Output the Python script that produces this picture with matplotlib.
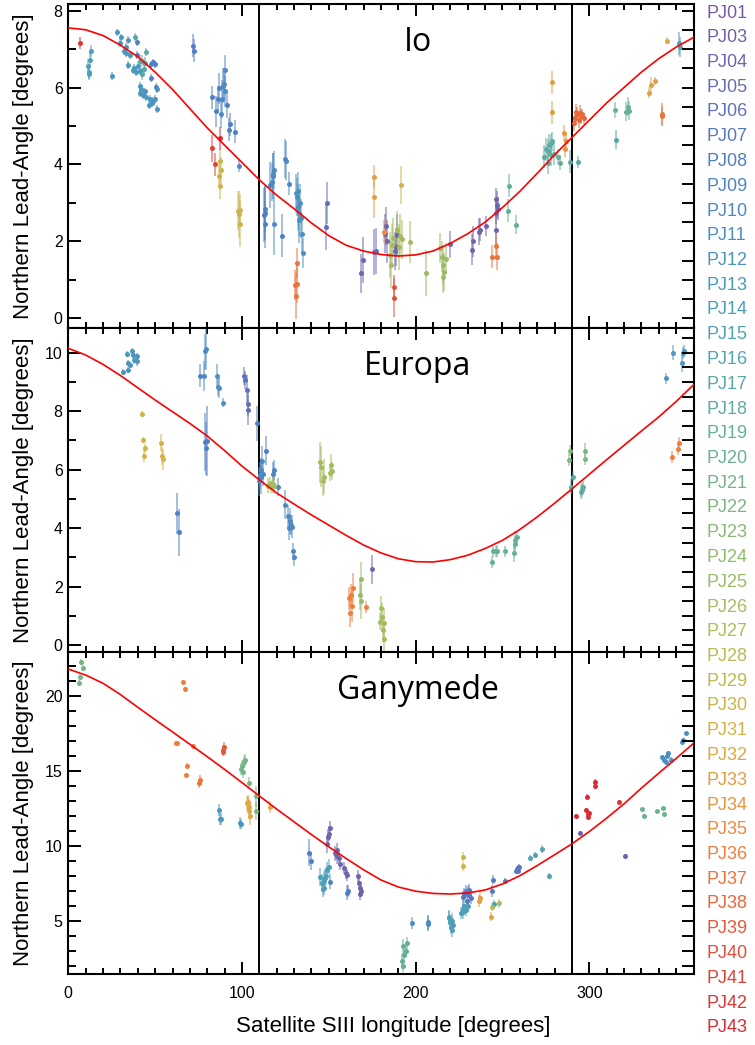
import matplotlib
matplotlib.use('Agg')
import matplotlib.pyplot as plt
from matplotlib.colors import LinearSegmentedColormap, to_rgba
from matplotlib.ticker import MultipleLocator

plt.rcParams['font.family'] = ['Liberation Sans', 'DejaVu Sans']

# ---------------- data ----------------
pj_numbers = [1] + list(range(3, 44))
pj_labels = ['PJ%02d' % n for n in pj_numbers]

curve_lon = list(range(0, 361, 10))
io_curve = [7.55, 7.5, 7.35, 7.1, 6.8, 6.4, 5.95, 5.45, 4.95, 4.5, 4.05, 3.6, 3.2, 2.85, 2.48,
            2.15, 1.9, 1.75, 1.66, 1.62, 1.65, 1.75, 1.95, 2.2, 2.5, 2.88, 3.3, 3.77, 4.25, 4.7,
            5.15, 5.6, 6.0, 6.4, 6.75, 7.05, 7.3]
europa_curve = [10.15, 9.92, 9.6, 9.22, 8.8, 8.38, 7.98, 7.58, 7.15, 6.65, 6.12, 5.65, 5.2, 4.82,
                4.45, 4.1, 3.75, 3.42, 3.15, 2.95, 2.85, 2.84, 2.92, 3.07, 3.3, 3.58, 3.95, 4.38,
                4.85, 5.34, 5.84, 6.34, 6.83, 7.32, 7.8, 8.33, 8.9]
ganymede_curve = [21.8, 21.4, 20.85, 20.1, 19.25, 18.42, 17.6, 16.78, 15.95, 15.1, 14.22, 13.33,
                  12.45, 11.6, 10.75, 9.93, 9.15, 8.4, 7.72, 7.25, 6.97, 6.82, 6.78, 6.85, 7.05,
                  7.45, 8.0, 8.68, 9.4, 10.13, 10.95, 11.85, 12.8, 13.85, 14.85, 15.83, 16.84]

io_lon = [6.7, 11.5, 12, 12.5, 13, 11.8, 25.2, 28.3, 30.6, 29.6, 32, 33, 33.5, 34.4, 35.4, 34.4,
          37, 38, 39, 40, 41, 38.2, 39.6, 39.5, 41, 42.5, 44, 45, 43.6, 42.3, 47.7, 48.8, 50, 47.5,
          50.6, 41, 42, 41.5, 43, 44, 45, 47, 48, 49, 50, 51, 46.5, 51.2, 71.6, 72.2,
          83, 85, 86, 87, 88, 88.5, 89.5, 90, 89, 90.5, 91.5, 92.5, 93, 96, 98.4,
          82.6, 84.5, 87.3, 87.4, 87.8, 87, 87.2, 98, 98.4, 98.8, 99,
          113, 113.2, 113.5, 112.5, 116, 117.5, 118, 118.5, 117.8, 118.5, 124.8, 125.2, 127.2, 123,
          131, 131.5, 132, 132.5, 133, 133.5, 134, 134.5, 135.2, 132.8,
          130.5, 131, 131.5, 131.8, 149, 148.5, 168.5, 169.5, 176, 177, 175.8, 176.2, 191.5,
          182.5, 183, 183.5, 188.5, 189, 188, 185.5, 186.5, 187, 189.5, 190.5, 191, 192, 186,
          187.5, 187.3, 182, 197, 206, 214, 215, 216, 216.5, 217.5, 215.5, 219.6,
          232.5, 233, 236.5, 237, 240.7, 246.5, 247, 246, 247.5, 246, 244, 246.5, 247,
          253.5, 253.2, 258, 274, 275, 276, 277, 278, 278.7, 278, 276.5, 279.5, 278.6, 278.3,
          281.7, 283, 285.5, 286, 286.3, 289, 293.5,
          291, 292, 293, 294, 295, 296, 297, 292.5, 294.5, 314.7, 315.5, 321, 322, 323,
          334.6, 335.5, 338, 341.6, 342, 345, 351.6, 352]
io_lead = [7.15, 6.55, 6.41, 6.71, 6.95, 6.35, 6.3, 7.43, 7.3, 7.15, 6.95, 7.05, 6.9, 7.24, 6.85, 6.59,
           6.45, 6.5, 6.4, 6.55, 6.42, 7.32, 7.19, 6.85, 6.7, 6.7, 6.63, 6.92, 6.47, 6.35, 6.6, 6.65, 6.6, 6.25,
           6.02, 6.05, 5.95, 5.85, 5.8, 5.9, 5.75, 5.7, 5.6, 5.65, 5.7, 5.45, 5.55, 5.95, 7.08, 6.95,
           5.75, 5.38, 5.7, 5.98, 5.3, 5.7, 6.1, 6.45, 6.05, 5.9, 5.55, 4.9, 5.05, 4.85, 3.96,
           4.42, 4.0, 4.68, 4.1, 3.85, 3.7, 3.45, 2.8, 2.7, 2.45, 2.82,
           2.73, 2.83, 2.44, 2.68, 3.47, 3.55, 3.75, 3.85, 3.7, 2.45, 4.15, 4.1, 3.5, 2.15,
           3.25, 3.15, 2.9, 3.3, 2.73, 3.0, 2.6, 2.2, 1.7, 2.55,
           0.87, 0.58, 1.44, 0.9, 3.0, 2.37, 1.17, 1.51, 1.72, 1.75, 3.68, 3.15, 3.47,
           2.2, 2.4, 2.0, 1.85, 2.17, 1.75, 1.65, 1.9, 2.1, 2.3, 1.85, 2.15, 2.05, 1.4,
           0.82, 0.54, 2.25, 1.98, 1.19, 1.83, 1.6, 1.4, 1.2, 1.55, 1.07, 1.92,
           1.78, 2.0, 2.25, 2.3, 2.4, 2.75, 2.95, 3.1, 2.85, 2.3, 1.6, 1.87, 1.6,
           3.45, 2.8, 2.43, 4.2, 4.4, 4.35, 4.5, 4.55, 4.6, 4.25, 4.05, 4.28, 6.13, 5.36,
           4.2, 4.05, 4.82, 4.4, 4.6, 4.07, 4.06,
           5.07, 5.2, 5.3, 5.15, 5.25, 5.3, 5.2, 5.37, 5.35, 5.42, 4.64, 5.37, 5.5, 5.4,
           5.87, 6.07, 6.17, 5.3, 5.27, 7.22, 7.15, 7.05]
io_err = [0.15, 0.2, 0.2, 0.2, 0.15, 0.15, 0.1, 0.1, 0.1, 0.1, 0.1, 0.1, 0.1, 0.1, 0.1, 0.1,
          0.1, 0.1, 0.1, 0.1, 0.1, 0.1, 0.1, 0.1, 0.15, 0.15, 0.15, 0.1, 0.15, 0.15, 0.1, 0.1, 0.1, 0.1,
          0.1, 0.1, 0.1, 0.1, 0.1, 0.1, 0.1, 0.1, 0.1, 0.1, 0.1, 0.1, 0.1, 0.1, 0.3, 0.3,
          0.3, 0.4, 0.35, 0.4, 0.35, 0.5, 0.4, 0.4, 0.45, 0.4, 0.35, 0.3, 0.3, 0.3, 0.15,
          0.35, 0.3, 0.3, 0.3, 0.35, 0.3, 0.35, 0.5, 0.6, 0.6, 0.4,
          0.7, 0.6, 0.6, 0.7, 0.6, 0.5, 0.55, 0.5, 0.6, 0.8, 0.5, 0.5, 0.3, 0.55,
          0.5, 0.5, 0.6, 0.5, 0.6, 0.5, 0.5, 0.5, 0.4, 0.6,
          0.4, 0.6, 0.4, 0.5, 0.55, 0.6, 0.5, 0.6, 0.6, 0.6, 0.3, 0.55, 0.5,
          0.5, 0.5, 0.55, 0.5, 0.55, 0.5, 0.6, 0.55, 0.5, 0.5, 0.6, 0.55, 0.5, 0.6,
          0.3, 0.5, 0.3, 0.55, 0.6, 0.4, 0.4, 0.5, 0.5, 0.4, 0.4, 0.35,
          0.4, 0.4, 0.35, 0.3, 0.25, 0.3, 0.35, 0.3, 0.3, 0.4, 0.3, 0.35, 0.35,
          0.3, 0.3, 0.25, 0.3, 0.3, 0.3, 0.3, 0.25, 0.25, 0.3, 0.3, 0.3, 0.3, 0.3,
          0.2, 0.2, 0.2, 0.2, 0.2, 0.3, 0.15,
          0.2, 0.2, 0.2, 0.2, 0.2, 0.15, 0.15, 0.2, 0.2, 0.2, 0.25, 0.25, 0.25, 0.25,
          0.15, 0.2, 0.1, 0.3, 0.25, 0.1, 0.3, 0.25]
io_pj = [42, 14, 14, 14, 14, 14, 12, 12, 12, 12, 12, 12, 12, 12, 12, 12,
         13, 13, 13, 13, 13, 16, 8, 6, 17, 17, 17, 17, 17, 17, 8, 8, 8, 8,
         8, 12, 12, 12, 12, 12, 13, 12, 12, 12, 12, 12, 12, 12, 8, 8,
         8, 8, 8, 8, 10, 10, 10, 10, 10, 10, 8, 8, 8, 8, 10,
         41, 41, 43, 30, 30, 30, 30, 30, 30, 30, 30,
         8, 8, 8, 8, 9, 10, 10, 10, 10, 10, 10, 10, 10, 8,
         11, 11, 11, 11, 11, 11, 11, 11, 11, 10,
         37, 37, 37, 37, 6, 6, 4, 4, 5, 5, 33, 33, 30,
         4, 4, 4, 4, 4, 5, 26, 26, 26, 26, 26, 26, 26, 26,
         40, 40, 35, 26, 25, 25, 25, 25, 25, 25, 25, 4,
         4, 4, 4, 4, 4, 4, 4, 4, 4, 4, 37, 37, 37,
         19, 19, 19, 18, 18, 18, 18, 18, 18, 18, 18, 18, 33, 33,
         19, 19, 34, 34, 34, 17, 17,
         38, 38, 38, 38, 38, 38, 38, 38, 38, 20, 16, 19, 19, 19,
         33, 33, 33, 37, 37, 32, 15, 15]

europa_lon = [31.7, 34.5, 34.6, 34, 36.5, 37, 38, 39.4, 39.8, 35.5,
              42.3, 42.9, 43.6, 44.2, 53.3, 53.8, 54.4, 62.5, 63.6,
              75.9, 78, 79.4, 79, 78.8, 79.2, 79.6, 85.9, 86.3, 86.8, 88.8,
              100.9, 102, 102.7, 103.7, 103.4, 108.6,
              110, 110.5, 111, 111.5, 111.2, 112, 114, 115, 116, 117, 118, 118.6, 117.8, 118.2, 121,
              125, 126.3, 127, 128, 128.6, 129.3, 130.2, 127.5,
              145, 145.6, 146.6, 147.3, 150.7, 151.3, 151.8,
              161.8, 162.3, 163.3, 164, 162.8, 171.6, 168, 168.3, 168.6, 174.9,
              179.7, 180.3, 181, 181.5, 182, 180.8,
              244, 244.6, 246, 247, 251.7, 256.5, 257, 257.5, 258.4,
              288.3, 288.6, 297.3, 297.8, 289.7, 290.5, 295.3, 295.8, 296.5,
              344, 348, 353.5, 353.9, 354.4, 347.4, 351, 351.7]
europa_lead = [9.35, 9.4, 9.64, 9.96, 10.07, 9.92, 9.75, 9.89, 9.7, 9.57,
               7.9, 7.01, 6.47, 6.73, 6.92, 6.47, 6.35, 4.5, 3.85,
               9.21, 9.2, 10.12, 10.05, 6.94, 6.73, 6.98, 9.2, 8.82, 8.8, 8.29,
               9.21, 9.07, 8.72, 8.04, 8.24, 7.58,
               5.6, 5.8, 6.0, 6.3, 5.75, 5.85, 6.65, 5.45, 5.55, 5.4, 5.5, 5.45, 5.85, 5.99, 5.4,
               4.8, 4.4, 4.0, 4.1, 4.05, 3.2, 3.0, 4.25,
               6.25, 6.1, 5.6, 5.75, 5.9, 6.15, 5.95,
               1.6, 1.1, 1.33, 1.95, 1.7, 1.3, 1.7, 2.25, 1.5, 2.59,
               0.8, 1.26, 0.5, 0.75, 0.2, 0.95,
               2.85, 3.2, 3.2, 3.22, 3.2, 3.15, 3.45, 3.6, 3.7,
               6.33, 6.65, 6.35, 6.65, 5.42, 5.76, 5.24, 5.3, 5.42,
               9.12, 10.0, 9.64, 10.0, 10.05, 6.44, 6.7, 6.9]
europa_err = [0.1, 0.1, 0.1, 0.1, 0.1, 0.1, 0.15, 0.1, 0.15, 0.1,
              0.1, 0.1, 0.2, 0.15, 0.3, 0.3, 0.35, 0.7, 0.8,
              0.4, 0.5, 0.7, 0.6, 1.0, 0.9, 1.2, 0.4, 0.3, 0.35, 0.15,
              0.3, 0.3, 0.5, 0.5, 0.4, 0.6,
              0.5, 0.45, 0.4, 0.5, 0.6, 0.4, 0.5, 0.25, 0.2, 0.2, 0.3, 0.3, 0.4, 0.35, 0.3,
              0.5, 0.4, 0.4, 0.35, 0.4, 0.3, 0.3, 0.45,
              0.7, 0.7, 0.5, 0.6, 0.3, 0.4, 0.3,
              0.4, 0.5, 0.55, 0.5, 0.4, 0.2, 0.5, 0.6, 0.6, 0.5,
              0.3, 0.4, 0.4, 0.5, 0.4, 0.5,
              0.2, 0.2, 0.2, 0.2, 0.2, 0.3, 0.25, 0.3, 0.2,
              0.2, 0.2, 0.2, 0.25, 0.25, 0.2, 0.25, 0.25, 0.2,
              0.2, 0.25, 0.3, 0.2, 0.2, 0.2, 0.2, 0.2]
europa_pj = [12, 12, 12, 12, 12, 12, 12, 12, 12, 12,
             31, 31, 31, 31, 31, 31, 31, 8, 8,
             10, 10, 10, 10, 8, 8, 8, 11, 11, 11, 11,
             6, 6, 6, 6, 6, 8,
             10, 10, 10, 10, 10, 10, 8, 26, 26, 26, 26, 26, 9, 9, 10,
             10, 10, 10, 10, 10, 10, 10, 10,
             26, 26, 26, 26, 26, 26, 26,
             36, 36, 36, 36, 36, 36, 25, 25, 25, 4,
             26, 26, 26, 26, 26, 26,
             19, 19, 19, 19, 19, 19, 19, 19, 19,
             22, 22, 22, 22, 18, 18, 18, 18, 18,
             13, 13, 13, 13, 13, 36, 36, 36]

ganymede_lon = [6.2, 6.8, 8.3, 7.5, 66, 67.3, 62, 62.8, 71.7, 68.4, 68, 75.5, 75.9,
                88.8, 89.5, 89.2, 87, 87.2, 87.8, 99, 99.4,
                99.5, 100.2, 101, 101.6, 100.6, 104.3,
                102.8, 103.5, 104.2, 104.7, 104.3, 103.3, 107.8, 108.2, 115.9,
                138.8, 139.7, 145, 146, 147, 147.5, 148.5, 149, 150, 146.5, 148, 150.5,
                149, 149.5, 150.5, 150, 153.7, 155, 156, 156.6, 154.5, 159, 159.8, 160.4,
                160.4, 160.8, 167, 167.8, 168.2, 168.5, 167.5,
                192, 192.5, 193.5, 194.3, 195, 193, 198, 207, 207.3,
                219, 219.8, 220.3, 220.8, 221, 219.5, 221.3,
                226, 227, 228, 229, 230, 227.5,
                227, 228, 229, 230, 231, 232, 229.5, 230.5,
                227, 227.3, 236.6, 237.3, 244.6, 244.2, 243.4, 243.8, 245, 248, 251.7,
                258, 258.5, 259, 259.6, 258.8, 266, 268.5, 273, 277,
                292.6, 294.9, 298.4, 298, 299, 299.5, 300, 303.3, 303.5, 317, 320.8,
                330.5, 331.4, 339, 342.5, 343,
                342, 343, 344.5, 345.3, 344, 347, 353.6, 354, 355.5]
ganymede_lead = [20.9, 21.25, 21.85, 22.29, 20.95, 20.47, 16.84, 16.86, 16.66, 15.35, 14.73, 14.17, 14.4,
                 16.28, 16.62, 16.4, 12.4, 11.8, 11.8, 11.5, 11.45,
                 15.1, 15.3, 15.6, 15.7, 14.95, 14.17,
                 12.85, 12.9, 12.6, 12.0, 12.3, 12.8, 12.34, 13.3, 12.61,
                 9.54, 9.0, 7.9, 7.5, 7.7, 7.2, 8.0, 8.4, 8.6, 7.1, 7.85, 7.6,
                 10.15, 10.6, 11.17, 10.8, 9.5, 9.7, 9.2, 8.8, 9.3, 8.5, 8.2, 8.05,
                 6.85, 6.95, 8.0, 7.2, 6.8, 7.0, 7.5,
                 2.3, 3.3, 2.7, 3.0, 3.5, 2.0, 4.83, 4.8, 4.9,
                 5.2, 4.9, 4.6, 5.0, 4.4, 5.26, 4.7,
                 5.5, 5.8, 6.0, 5.7, 6.0, 5.6,
                 6.6, 6.8, 7.0, 6.9, 6.7, 6.5, 6.3, 7.05,
                 9.27, 8.65, 6.3, 6.5, 7.72, 6.98, 5.26, 5.93, 6.1, 6.15, 7.65,
                 8.3, 8.45, 8.5, 8.6, 8.35, 9.2, 9.4, 9.8, 8.0,
                 11.99, 10.87, 13.28, 12.4, 12.1, 11.95, 12.2, 14.0, 14.28, 12.94, 9.32,
                 12.44, 11.99, 12.3, 12.5, 12.1,
                 15.9, 15.7, 16.0, 16.2, 15.6, 15.75, 16.95, 17.05, 17.5]
ganymede_err = [0.2, 0.2, 0.2, 0.2, 0.1, 0.1, 0.1, 0.1, 0.15, 0.15, 0.1, 0.3, 0.3,
                0.3, 0.3, 0.3, 0.4, 0.4, 0.4, 0.4, 0.35,
                0.4, 0.4, 0.4, 0.4, 0.4, 0.4,
                0.5, 0.5, 0.5, 0.6, 0.5, 0.5, 0.6, 0.7, 0.4,
                0.9, 0.6, 0.6, 0.6, 0.6, 0.5, 0.6, 0.5, 0.5, 0.5, 0.6, 0.5,
                0.6, 0.5, 0.5, 0.5, 0.5, 0.5, 0.4, 0.4, 0.5, 0.4, 0.4, 0.4,
                0.5, 0.4, 0.4, 0.4, 0.4, 0.4, 0.4,
                0.5, 0.5, 0.5, 0.4, 0.4, 0.4, 0.4, 0.5, 0.5,
                0.5, 0.5, 0.5, 0.5, 0.5, 0.4, 0.5,
                0.4, 0.4, 0.4, 0.4, 0.4, 0.5,
                0.4, 0.4, 0.4, 0.4, 0.4, 0.4, 0.4, 0.4,
                0.3, 0.3, 0.4, 0.4, 0.3, 0.4, 0.3, 0.3, 0.3, 0.3, 0.2,
                0.2, 0.2, 0.2, 0.2, 0.2, 0.2, 0.2, 0.25, 0.2,
                0.1, 0.1, 0.15, 0.15, 0.15, 0.15, 0.15, 0.15, 0.15, 0.1, 0.1,
                0.1, 0.1, 0.1, 0.1, 0.1,
                0.15, 0.15, 0.15, 0.15, 0.1, 0.15, 0.1, 0.1, 0.1]
ganymede_pj = [21, 21, 21, 21, 36, 36, 36, 36, 36, 36, 36, 37, 37,
               39, 39, 39, 12, 12, 12, 12, 12,
               21, 21, 21, 21, 21, 22,
               32, 32, 32, 32, 32, 32, 22, 22, 32,
               8, 8, 14, 14, 14, 14, 14, 14, 14, 14, 14, 9,
               4, 4, 4, 4, 4, 4, 4, 4, 4, 4, 4, 4,
               8, 8, 3, 3, 3, 3, 3,
               19, 19, 19, 19, 19, 19, 10, 10, 10,
               14, 14, 14, 14, 14, 14, 14,
               14, 14, 14, 14, 14, 14,
               7, 7, 7, 7, 7, 7, 7, 7,
               30, 30, 33, 33, 7, 7, 33, 27, 14, 27, 7,
               7, 7, 7, 7, 7, 15, 15, 15, 15,
               43, 3, 43, 43, 43, 43, 43, 43, 43, 42, 3,
               20, 20, 20, 20, 20,
               11, 11, 11, 11, 11, 11, 11, 11, 11]

moon_names = ['Io', 'Europa', 'Ganymede']
ylims = [(-0.25, 8.17), (-0.24, 10.845), (1.44, 22.94)]
y_major = [2, 2, 5]
y_minor_left = [1, 1, 1]
y_minor_right = [0.5, 0.5, 1]
vlines_lon = [110, 290]

# ---------------- style ----------------
pj_cmap = LinearSegmentedColormap.from_list('pj', [
    (0.00, '#7a5aa6'), (0.15, '#5080c4'), (0.27, '#4a9bbd'), (0.40, '#5fad9e'),
    (0.52, '#88ba72'), (0.63, '#b8bc52'), (0.72, '#dbae44'), (0.82, '#ef843e'),
    (1.00, '#d92b36')])
pj_color = {n: pj_cmap(i / (len(pj_numbers) - 1)) for i, n in enumerate(pj_numbers)}

W, H = 755, 1045
fig = plt.figure(figsize=(W / 100, H / 100), dpi=100)
left_px, right_px = 68.3, 693.5
panel_px = [(4, 328), (328, 652), (652, 974)]

datasets = [
    (io_lon, io_lead, io_err, io_pj, io_curve),
    (europa_lon, europa_lead, europa_err, europa_pj, europa_curve),
    (ganymede_lon, ganymede_lead, ganymede_err, ganymede_pj, ganymede_curve),
]

label_font = dict(family='Liberation Sans', size=16)

for k, (top, bot) in enumerate(panel_px):
    ax = fig.add_axes([left_px / W, 1 - bot / H, (right_px - left_px) / W, (bot - top) / H])
    lon, lead, err, pj, curve = datasets[k]
    for n in pj_numbers:
        idx = [i for i, p in enumerate(pj) if p == n]
        if not idx:
            continue
        c = pj_color[n]
        ax.errorbar([lon[i] for i in idx], [lead[i] for i in idx],
                    yerr=[err[i] for i in idx], fmt='o', ms=3.6, mfc=c, mec=c, mew=0,
                    ecolor=to_rgba(c, 0.6), elinewidth=1.2, capsize=1.3, capthick=0.9,
                    zorder=3)
    for v in vlines_lon:
        ax.axvline(v, color='black', lw=1.4, zorder=2)
    ax.plot(curve_lon, curve, color='red', lw=1.2, zorder=4)

    ax.set_xlim(0, 360)
    ax.set_ylim(*ylims[k])
    ax.xaxis.set_major_locator(MultipleLocator(100))
    ax.xaxis.set_minor_locator(MultipleLocator(10))
    ax.yaxis.set_major_locator(MultipleLocator(y_major[k]))
    ax.yaxis.set_minor_locator(MultipleLocator(y_minor_left[k]))
    ax.tick_params(axis='x', which='both', direction='in', top=True, bottom=True, width=1.4)
    ax.tick_params(axis='x', which='major', length=8.6, pad=8.5, labelsize=11.5)
    ax.tick_params(axis='x', which='minor', length=4.3)
    ax.tick_params(axis='y', which='both', direction='in', left=True, right=False, width=1.4)
    ax.tick_params(axis='y', which='major', length=9, pad=4, labelsize=11.5)
    ax.tick_params(axis='y', which='minor', length=5.5)
    if k < 2:
        ax.tick_params(axis='x', labelbottom=False)
    else:
        ax.set_xlabel('Satellite SIII longitude [degrees]', **label_font)
        ax.xaxis.label.set_va('center')
        ax.xaxis.set_label_coords(0.52, -0.164)
    ax.set_ylabel('Northern Lead-Angle [degrees]', **label_font)
    ax.yaxis.label.set_va('center')
    ax.yaxis.set_label_coords(-0.072, 0.5)
    for s in ax.spines.values():
        s.set_linewidth(1.5)

    ax2 = ax.twinx()
    ax2.set_ylim(*ylims[k])
    ax2.yaxis.set_major_locator(MultipleLocator(y_minor_right[k]))
    ax2.tick_params(axis='y', direction='in', length=8.6, width=1.4, labelright=False)
    for s in ax2.spines.values():
        s.set_visible(False)

    ax.text(0.559, 0.855, moon_names[k], transform=ax.transAxes, ha='center',
            va='baseline', fontsize=23, family='Open Sans', zorder=5)

for i, lab in enumerate(pj_labels):
    fig.text(707 / W, 1 - (13 + i * 24.75) / H, lab, ha='left', va='center',
             fontsize=13, family='Liberation Sans', color=pj_color[pj_numbers[i]])

fig.savefig('out.png', dpi=100)
